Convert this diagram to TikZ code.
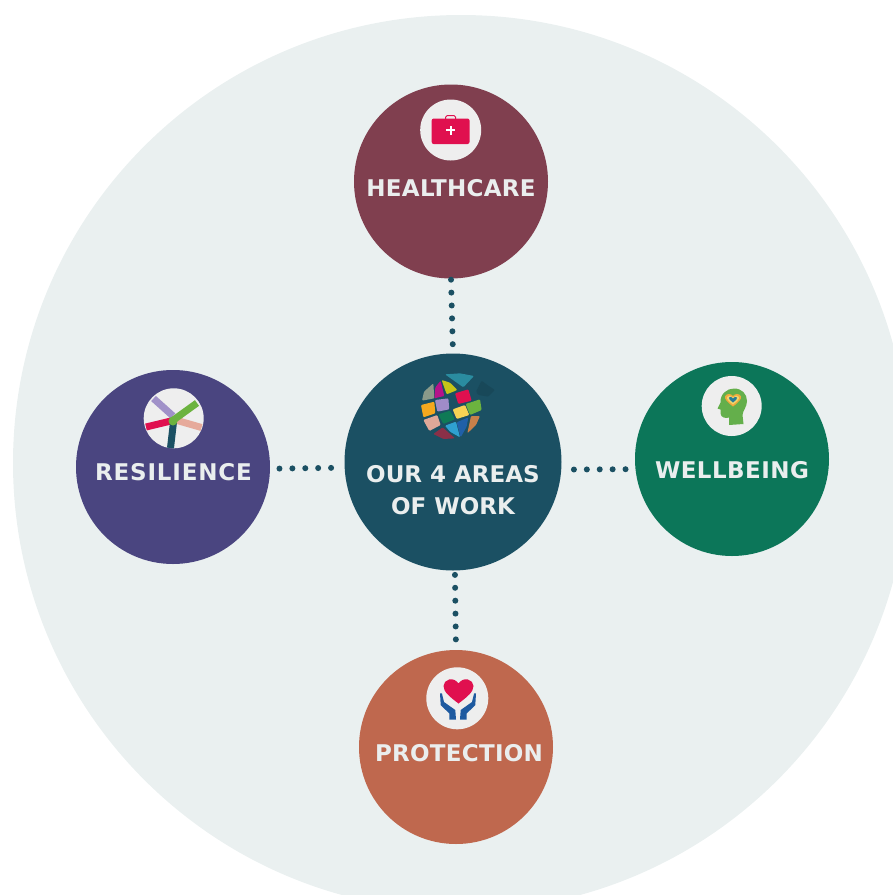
\documentclass[tikz,border=0pt]{standalone}
\usepackage{fontspec}
\setmainfont{DejaVu Sans}
\definecolor{bgc}{HTML}{EAF0F0}
\definecolor{healthc}{HTML}{803F4F}
\definecolor{centerc}{HTML}{1B5063}
\definecolor{resilc}{HTML}{4A4580}
\definecolor{wellc}{HTML}{0C7659}
\definecolor{protc}{HTML}{BF684E}
\definecolor{iconbg}{HTML}{EEEEEE}
\definecolor{labelc}{HTML}{EAEEEE}
\definecolor{crimson}{HTML}{E0104F}
\definecolor{handblue}{HTML}{1E5AA0}
\definecolor{leaf}{HTML}{6CB33F}
\tikzset{
  area/.style={circle,inner sep=0pt,minimum size=194pt},
  iconcircle/.style={circle,fill=iconbg,inner sep=0pt,minimum size=61pt},
  areatext/.style={text=labelc,font=\fontsize{23}{32}\selectfont\bfseries,align=center,inner sep=0pt},
  dots/.style={draw=centerc,line width=6pt,line cap=round,dash pattern=on 0pt off 12.9pt},
  patch/.style={rounded corners=1pt},
  arm/.style={line width=7pt},
  zoomA/.style={shift={(400,360)},x=0.3333pt,y=-0.3333pt},
}
\begin{document}
\begin{tikzpicture}[x=1pt,y=-1pt]
\useasboundingbox (0,0) rectangle (893,895);
\clip (0,0) rectangle (893,895);
\fill[bgc] (461,463) circle[radius=448];
\node[area,fill=healthc] (health) at (451,181.5) {};
\node[area,fill=resilc] (resil) at (173,467) {};
\node[area,fill=wellc] (well) at (732,459) {};
\node[area,fill=protc] (prot) at (456,747) {};
\node[circle,inner sep=0pt,minimum size=217pt,fill=centerc] (hub) at (453,462) {};

% connectors
\draw[dots,shorten <=1pt,shorten >=8.5pt] (health.-90.6) -- (hub.90.5);
\draw[dots,shorten <=4.2pt,shorten >=8.5pt] (hub.-89.3) -- (prot.north);
\draw[dots,shorten <=9.3pt,shorten >=12pt] (resil.-1.2) -- (hub.183.6);
\draw[dots,shorten <=12.5pt,shorten >=8.5pt] (hub.-4.07) -- (well.186.33);

% labels
\node[areatext] (thealth) at (451,188.5) {\addfontfeature{LetterSpace=1.2}HEALTHCARE};
\node[areatext] (tresil) at (173.5,472.5) {\addfontfeature{LetterSpace=3.5}RESILIENCE};
\node[areatext] (twell) at (732,470) {\addfontfeature{LetterSpace=2}WELLBEING};
\node[areatext] (tprot) at (459,753) {\addfontfeature{LetterSpace=1.2}PROTECTION};
\node[areatext] (thub) at (453,490) {OUR 4 AREAS\\OF WORK};

% globe icon
\begin{scope}[zoomA]
\fill[patch,fill=centerc!90!black] (228,95)--(245,62)--(262,75)--(285,90)--(265,110)--(235,105)--cycle;
\fill[patch,fill={rgb,255:red,42;green,140;blue,160}] (135,43)--(180,40)--(222,48)--(190,82)--cycle;
\fill[patch,fill={rgb,255:red,138;green,154;blue,138}] (66,122)--(72,95)--(100,70)--(103,115)--cycle;
\fill[patch,fill={rgb,255:red,181;green,18;blue,138}] (103,115)--(106,82)--(122,62)--(133,108)--cycle;
\fill[patch,fill={rgb,255:red,197;green,197;blue,24}] (125,60)--(150,68)--(172,90)--(140,103)--cycle;
\fill[patch,fill=crimson] (165,100)--(205,88)--(215,122)--(175,132)--cycle;
\fill[patch,fill={rgb,255:red,160;green,140;blue,200}] (105,120)--(145,115)--(148,148)--(112,155)--cycle;
\fill[patch,fill={rgb,255:red,245;green,168;blue,30}] (63,135)--(103,125)--(106,160)--(70,172)--cycle;
\fill[patch,fill=leaf] (197,132)--(240,118)--(245,150)--(210,165)--cycle;
\fill[patch,fill={rgb,255:red,247;green,211;blue,84}] (158,148)--(195,135)--(208,165)--(170,177)--cycle;
\fill[patch,fill={rgb,255:red,15;green,122;blue,86}] (115,163)--(150,152)--(165,178)--(130,192)--cycle;
\fill[patch,fill={rgb,255:red,224;green,168;blue,152}] (70,180)--(112,165)--(122,195)--(88,213)--cycle;
\fill[patch,fill={rgb,255:red,138;green,48;blue,72}] (100,222)--(128,202)--(165,235)--(130,237)--cycle;
\fill[patch,fill={rgb,255:red,47;green,160;blue,208}] (135,197)--(168,185)--(180,232)--(150,215)--cycle;
\fill[patch,fill={rgb,255:red,32;green,96;blue,168}] (170,187)--(205,172)--(200,200)--(182,232)--cycle;
\fill[patch,fill={rgb,255:red,200;green,128;blue,74}] (213,168)--(240,168)--(228,195)--(202,220)--cycle;
\end{scope}

% healthcare icon
\node[iconcircle] (ihealth) at (450.7,130) {};
\draw[crimson,line width=1pt,rounded corners=1.5pt] (445.7,119) -- (445.7,115.5) -- (455.5,115.5) -- (455.5,119);
\fill[crimson,rounded corners=2pt] (431.7,118.5) rectangle (469.5,144);
\fill[white] (449.6,125.8) rectangle (451.8,134.8);
\fill[white] (446.2,129.2) rectangle (455.2,131.4);

% resilience icon
\node[iconcircle,minimum size=60pt] (iresil) at (173.7,418.3) {};
\draw[arm,color={rgb,255:red,160;green,145;blue,200}] (153.5,398.5) -- (173,416);
\draw[arm,color={rgb,255:red,230;green,170;blue,155}] (201.5,427.5) -- (172,419);
\draw[arm,color=crimson] (146,427) -- (171,421);
\draw[arm,color=centerc] (170.5,448) -- (173.5,422);
\draw[arm,color=leaf] (197,403) -- (172,421);
\fill[color=leaf] (173,421) circle[radius=4.5];

% wellbeing icon
\node[iconcircle,minimum size=60pt] (iwell) at (731.7,406) {};
\fill[color={rgb,255:red,100;green,175;blue,75}] (729,425) -- (729,417.5) .. controls (726,418.5) and (721,418) .. (720.5,413.5)
  -- (720.5,409.5) -- (717.5,408.5) -- (720.5,402.5) .. controls (720,394) and (727,388.5) .. (734,388.5)
  .. controls (742,388.5) and (747,394) .. (747,401) .. controls (747,407) and (743,410) .. (742.5,415)
  -- (743.5,424) -- cycle;
\fill[color={rgb,255:red,240;green,170;blue,60}] (733,406.5) .. controls (727,402) and (724.5,399) .. (725,396.5)
  .. controls (726,393.5) and (731,393) .. (733,396) .. controls (735,393) and (740,393.5) .. (741,396.5)
  .. controls (741.5,399) and (739,402) .. (733,406.5) -- cycle;
\fill[color={rgb,255:red,240;green,215;blue,110}] (733,404.5) .. controls (728.5,401) and (726.5,399) .. (727,397)
  .. controls (728,395) and (731.5,395) .. (733,397.5) .. controls (734.5,395) and (738,395) .. (739,397)
  .. controls (739.5,399) and (737.5,401) .. (733,404.5) -- cycle;
\fill[color={rgb,255:red,40;green,125;blue,150}] (733,402.5) .. controls (730,400) and (728.5,399) .. (729,397.5)
  .. controls (730,396.5) and (732,396.5) .. (733,398.5) .. controls (734,396.5) and (736,396.5) .. (737,397.5)
  .. controls (737.5,399) and (736,400) .. (733,402.5) -- cycle;

% protection icon
\node[iconcircle,minimum size=62pt] (iprot) at (457.3,698.3) {};
\fill[crimson] (458.5,703.5) .. controls (450,697) and (443.5,692) .. (443.5,686)
  .. controls (443.5,679.5) and (453.5,676) .. (458.5,683.5)
  .. controls (463.5,676) and (473.5,679.5) .. (473.5,686)
  .. controls (473.5,692) and (467,697) .. (458.5,703.5) -- cycle;
\fill[handblue] (440,693.3) -- (441.9,693.3) -- (444,702) -- (455.3,710) -- (456,719.5) -- (449.3,719.5) -- (449.3,713.5) -- (440.7,705) -- cycle;
\fill[handblue] (476,693.3) -- (474.1,693.3) -- (472,702) -- (460.7,710) -- (460,719.5) -- (466.7,719.5) -- (466.7,713.5) -- (475.3,705) -- cycle;
\end{tikzpicture}
\end{document}
